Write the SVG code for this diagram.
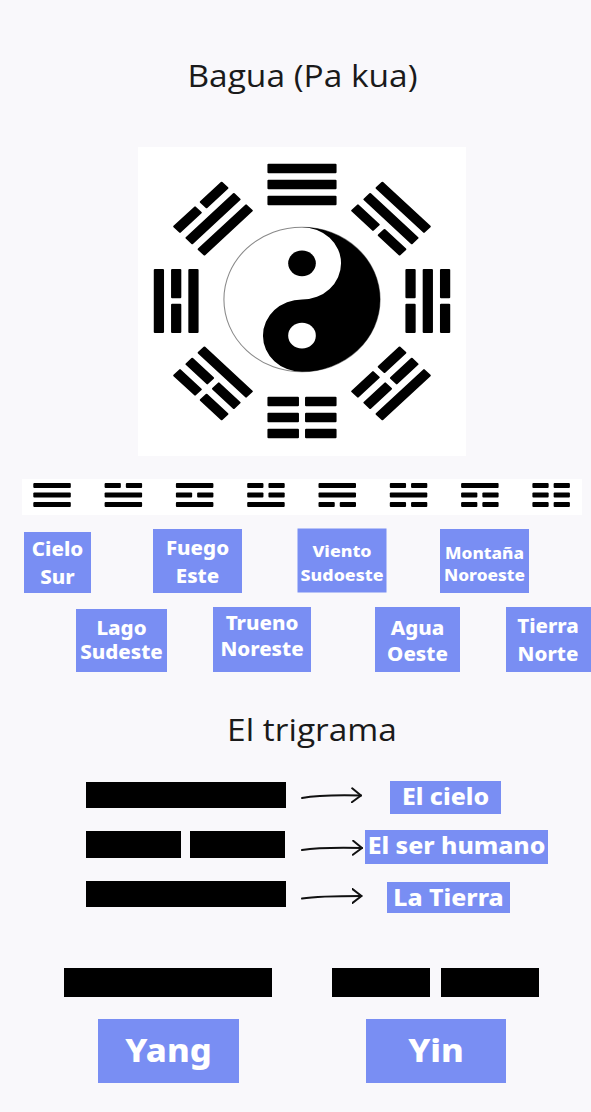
<svg xmlns="http://www.w3.org/2000/svg" xmlns:xlink="http://www.w3.org/1999/xlink" width="591" height="1112" viewBox="0 0 591 1112">
<style>
.ttl{font-family:"Open Sans","Noto Sans","Liberation Sans",sans-serif;font-size:31px;fill:#1a1a1a;text-anchor:middle}
.box{fill:#798ef3}
.lb{font-family:"Noto Sans","Open Sans","Liberation Sans",sans-serif;font-weight:800;fill:#ffffff;text-anchor:middle}
.s19{font-size:19px}.s165{font-size:16.5px}.s16{font-size:16px}.s23{font-size:23px}.s32{font-size:32px}
.blk{fill:#000}
.arr{fill:none;stroke:#111;stroke-width:2;stroke-linecap:round;stroke-linejoin:round}
</style>
<defs>
<g id="bs"><rect x="-32" y="-4.75" width="64" height="9.5" rx="1"/></g>
<g id="bb"><rect x="-32" y="-4.75" width="29.2" height="9.5" rx="1"/><rect x="2.8" y="-4.75" width="29.2" height="9.5" rx="1"/></g>
<g id="rs"><rect x="0" y="-2.5" width="37.5" height="5" rx="1"/></g>
<g id="rk"><rect x="0" y="-2.5" width="16.25" height="5" rx="1"/><rect x="21.25" y="-2.5" width="16.25" height="5" rx="1"/></g>
<marker id="hd" viewBox="0 0 12 16" refX="10" refY="8" markerWidth="12" markerHeight="16" markerUnits="userSpaceOnUse" orient="auto">
<path d="M1,1 L10,8 L1,15" fill="none" stroke="#111" stroke-width="2" stroke-linecap="round" stroke-linejoin="round"/>
</marker>
</defs>
<rect width="591" height="1112" fill="#f9f8fb"/>

<g id="title"><text class="ttl" transform="translate(302.5,87) scale(1.08,1)">Bagua (Pa kua)</text></g>

<g id="bagua">
<rect x="138" y="147" width="328" height="309" fill="#ffffff"/>
<g transform="translate(302,299.5) scale(1.08,1)">
<circle cx="0" cy="0" r="72.3" fill="#fff" stroke="#8a8a8a" stroke-width="1"/>
<path class="blk" d="M0,-72.3 A72.3,72.3 0 0 1 0,72.3 A36.15,36.15 0 0 1 0,0 A36.15,36.15 0 0 0 0,-72.3 Z"/>
<circle class="blk" cx="0" cy="-36.15" r="12.8"/>
<circle cx="0" cy="36.15" r="12.8" fill="#fff"/>
</g>
<g class="blk" transform="translate(302,301) scale(1.08,1)">
<g transform="rotate(0) translate(0,-116.5)"><use href="#bs" y="-16"/><use href="#bs" y="0"/><use href="#bs" y="16"/></g>
<g transform="rotate(45) translate(0,-116.5)"><use href="#bs" y="-16"/><use href="#bs" y="0"/><use href="#bb" y="16"/></g>
<g transform="rotate(90) translate(0,-116.5)"><use href="#bb" y="-16"/><use href="#bs" y="0"/><use href="#bb" y="16"/></g>
<g transform="rotate(135) translate(0,-116.5)"><use href="#bs" y="-16"/><use href="#bb" y="0"/><use href="#bb" y="16"/></g>
<g transform="rotate(180) translate(0,-116.5)"><use href="#bb" y="-16"/><use href="#bb" y="0"/><use href="#bb" y="16"/></g>
<g transform="rotate(225) translate(0,-116.5)"><use href="#bb" y="-16"/><use href="#bb" y="0"/><use href="#bs" y="16"/></g>
<g transform="rotate(270) translate(0,-116.5)"><use href="#bs" y="-16"/><use href="#bb" y="0"/><use href="#bs" y="16"/></g>
<g transform="rotate(315) translate(0,-116.5)"><use href="#bb" y="-16"/><use href="#bs" y="0"/><use href="#bs" y="16"/></g>
</g>
</g>

<g id="trigram-row">
<rect x="22" y="479" width="560" height="36" fill="#ffffff"/>
<g class="blk">
<g transform="translate(33.3,0)"><use href="#rs" y="485.5"/><use href="#rs" y="495"/><use href="#rs" y="504.5"/></g>
<g transform="translate(104.6,0)"><use href="#rk" y="485.5"/><use href="#rs" y="495"/><use href="#rs" y="504.5"/></g>
<g transform="translate(175.9,0)"><use href="#rs" y="485.5"/><use href="#rk" y="495"/><use href="#rs" y="504.5"/></g>
<g transform="translate(247.2,0)"><use href="#rk" y="485.5"/><use href="#rk" y="495"/><use href="#rs" y="504.5"/></g>
<g transform="translate(318.5,0)"><use href="#rs" y="485.5"/><use href="#rs" y="495"/><use href="#rk" y="504.5"/></g>
<g transform="translate(389.8,0)"><use href="#rk" y="485.5"/><use href="#rs" y="495"/><use href="#rk" y="504.5"/></g>
<g transform="translate(461.1,0)"><use href="#rs" y="485.5"/><use href="#rk" y="495"/><use href="#rk" y="504.5"/></g>
<g transform="translate(532.4,0)"><use href="#rk" y="485.5"/><use href="#rk" y="495"/><use href="#rk" y="504.5"/></g>
</g>
</g>

<g id="lbl-cielo"><rect class="box" x="24" y="532" width="67" height="61"/><g class="lb s19" transform="translate(57.5,0) scale(1.08,1)"><text y="556">Cielo</text><text y="584">Sur</text></g></g>
<g id="lbl-fuego"><rect class="box" x="153" y="529" width="89" height="64"/><g class="lb s19" transform="translate(197.5,0) scale(1.08,1)"><text y="555">Fuego</text><text y="583">Este</text></g></g>
<g id="lbl-viento"><rect class="box" x="297.5" y="528.5" width="89" height="64"/><g class="lb s165" transform="translate(342,0) scale(1.08,1)"><text y="557">Viento</text><text y="581">Sudoeste</text></g></g>
<g id="lbl-montana"><rect class="box" x="440" y="529" width="89" height="64"/><g class="lb s16" transform="translate(484.5,0) scale(1.08,1)"><text y="559">Montaña</text><text y="581">Noroeste</text></g></g>
<g id="lbl-lago"><rect class="box" x="76" y="609" width="91" height="63"/><g class="lb s19" transform="translate(121.5,0) scale(1.08,1)"><text y="635">Lago</text><text y="659.5">Sudeste</text></g></g>
<g id="lbl-trueno"><rect class="box" x="213" y="607" width="98" height="65"/><g class="lb s19" transform="translate(262,0) scale(1.08,1)"><text y="630">Trueno</text><text y="656.5">Noreste</text></g></g>
<g id="lbl-agua"><rect class="box" x="375" y="607" width="85" height="65"/><g class="lb s19" transform="translate(417.5,0) scale(1.08,1)"><text y="635">Agua</text><text y="661.5">Oeste</text></g></g>
<g id="lbl-tierra"><rect class="box" x="506" y="607" width="85" height="65"/><g class="lb s19" transform="translate(548,0) scale(1.08,1)"><text y="633.5">Tierra</text><text y="661.5">Norte</text></g></g>

<g id="subtitle"><text class="ttl" transform="translate(312,741) scale(1.08,1)">El trigrama</text></g>

<g id="trigram">
<rect class="blk" x="86" y="782" width="200" height="26"/>
<rect class="blk" x="86" y="831" width="95" height="27"/>
<rect class="blk" x="190" y="831" width="95" height="27"/>
<rect class="blk" x="86" y="881" width="200" height="26"/>
</g>

<g id="lbl-el-cielo"><rect class="box" x="390" y="781" width="111" height="33"/><text class="lb s23" transform="translate(445.5,805) scale(1.08,1)">El cielo</text></g>
<g id="lbl-ser-humano"><rect class="box" x="365" y="830" width="183" height="34"/><text class="lb s23" transform="translate(456.5,853.5) scale(1.08,1)">El ser humano</text></g>
<g id="lbl-la-tierra"><rect class="box" x="387" y="882" width="123" height="31"/><text class="lb s23" transform="translate(448.5,906) scale(1.08,1)">La Tierra</text></g>

<g id="connectors">
<path class="arr" marker-end="url(#hd)" d="M302,798 C318,795 340,795 361,795.5"/>
<path class="arr" marker-end="url(#hd)" d="M302,850 C318,847.5 340,847.5 362,848"/>
<path class="arr" marker-end="url(#hd)" d="M302,898.5 C318,896 340,896 361.5,896"/>
</g>

<g id="yang">
<rect class="blk" x="64" y="968" width="208" height="29"/>
<rect class="box" x="98" y="1019" width="141" height="64"/>
<text class="lb s32" transform="translate(168.5,1062) scale(1.08,1)">Yang</text>
</g>
<g id="yin">
<rect class="blk" x="332" y="968" width="98" height="29"/>
<rect class="blk" x="441" y="968" width="98" height="29"/>
<rect class="box" x="366" y="1019" width="140" height="64"/>
<text class="lb s32" transform="translate(436,1062) scale(1.08,1)">Yin</text>
</g>
</svg>
